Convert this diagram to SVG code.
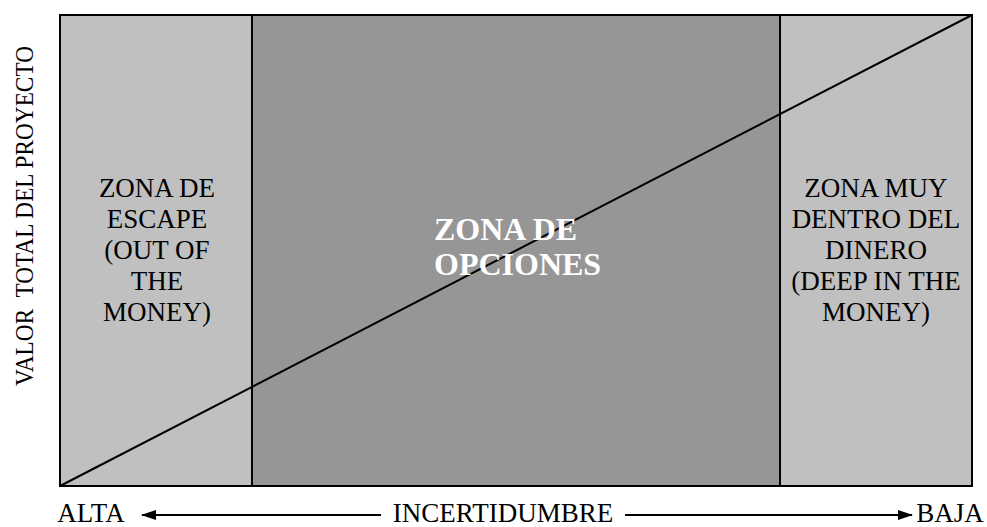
<svg xmlns="http://www.w3.org/2000/svg" width="987" height="527" viewBox="0 0 987 527">
<defs>
<style>
.t{font-family:"Liberation Serif","Times New Roman",serif;font-size:27px;fill:#000;text-anchor:middle}
.y{font-size:25px}
.b{font-family:"Liberation Serif","Times New Roman",serif;font-size:32px;font-weight:bold;fill:#fff}
.zone{stroke:#000;stroke-width:2}
.ln{stroke:#000;stroke-width:2;fill:none}
</style>
<marker id="ah" viewBox="0 0 15 10" refX="14" refY="5" markerWidth="15" markerHeight="10" markerUnits="userSpaceOnUse" orient="auto">
<path d="M0,0 L15,5 L0,10 Z" fill="#000"/>
</marker>
</defs>
<rect width="987" height="527" fill="#fff"/>
<g id="zona-escape">
<rect class="zone" x="60" y="15" width="192" height="471" fill="#c0c0c0"/>
<text class="t" x="157" y="197">ZONA DE</text>
<text class="t" x="157" y="228">ESCAPE</text>
<text class="t" x="157" y="259">(OUT OF</text>
<text class="t" x="157" y="290">THE</text>
<text class="t" x="157" y="321">MONEY)</text>
</g>
<g id="zona-opciones">
<rect class="zone" x="252" y="15" width="528" height="471" fill="#969696"/>
</g>
<g id="zona-dentro">
<rect class="zone" x="780" y="15" width="192" height="471" fill="#c0c0c0"/>
<text class="t" x="876" y="197">ZONA MUY</text>
<text class="t" x="876" y="228">DENTRO DEL</text>
<text class="t" x="876" y="259">DINERO</text>
<text class="t" x="876" y="290">(DEEP IN THE</text>
<text class="t" x="876" y="321">MONEY)</text>
</g>
<g id="connectors">
<line class="ln" x1="60" y1="486" x2="972" y2="15"/>
<line class="ln" x1="381" y1="515" x2="142" y2="515" marker-end="url(#ah)"/>
<line class="ln" x1="625" y1="515" x2="912" y2="515" marker-end="url(#ah)"/>
</g>
<g id="opciones-label">
<text class="b" x="434" y="240">ZONA DE</text>
<text class="b" x="434" y="275">OPCIONES</text>
</g>
<g id="axis-labels">
<text class="t y" transform="translate(33,216) rotate(-90)" textLength="340" lengthAdjust="spacingAndGlyphs" xml:space="preserve">VALOR  TOTAL DEL PROYECTO</text>
<text class="t" x="91" y="522">ALTA</text>
<text class="t" x="503" y="522">INCERTIDUMBRE</text>
<text class="t" x="950" y="522">BAJA</text>
</g>
</svg>
